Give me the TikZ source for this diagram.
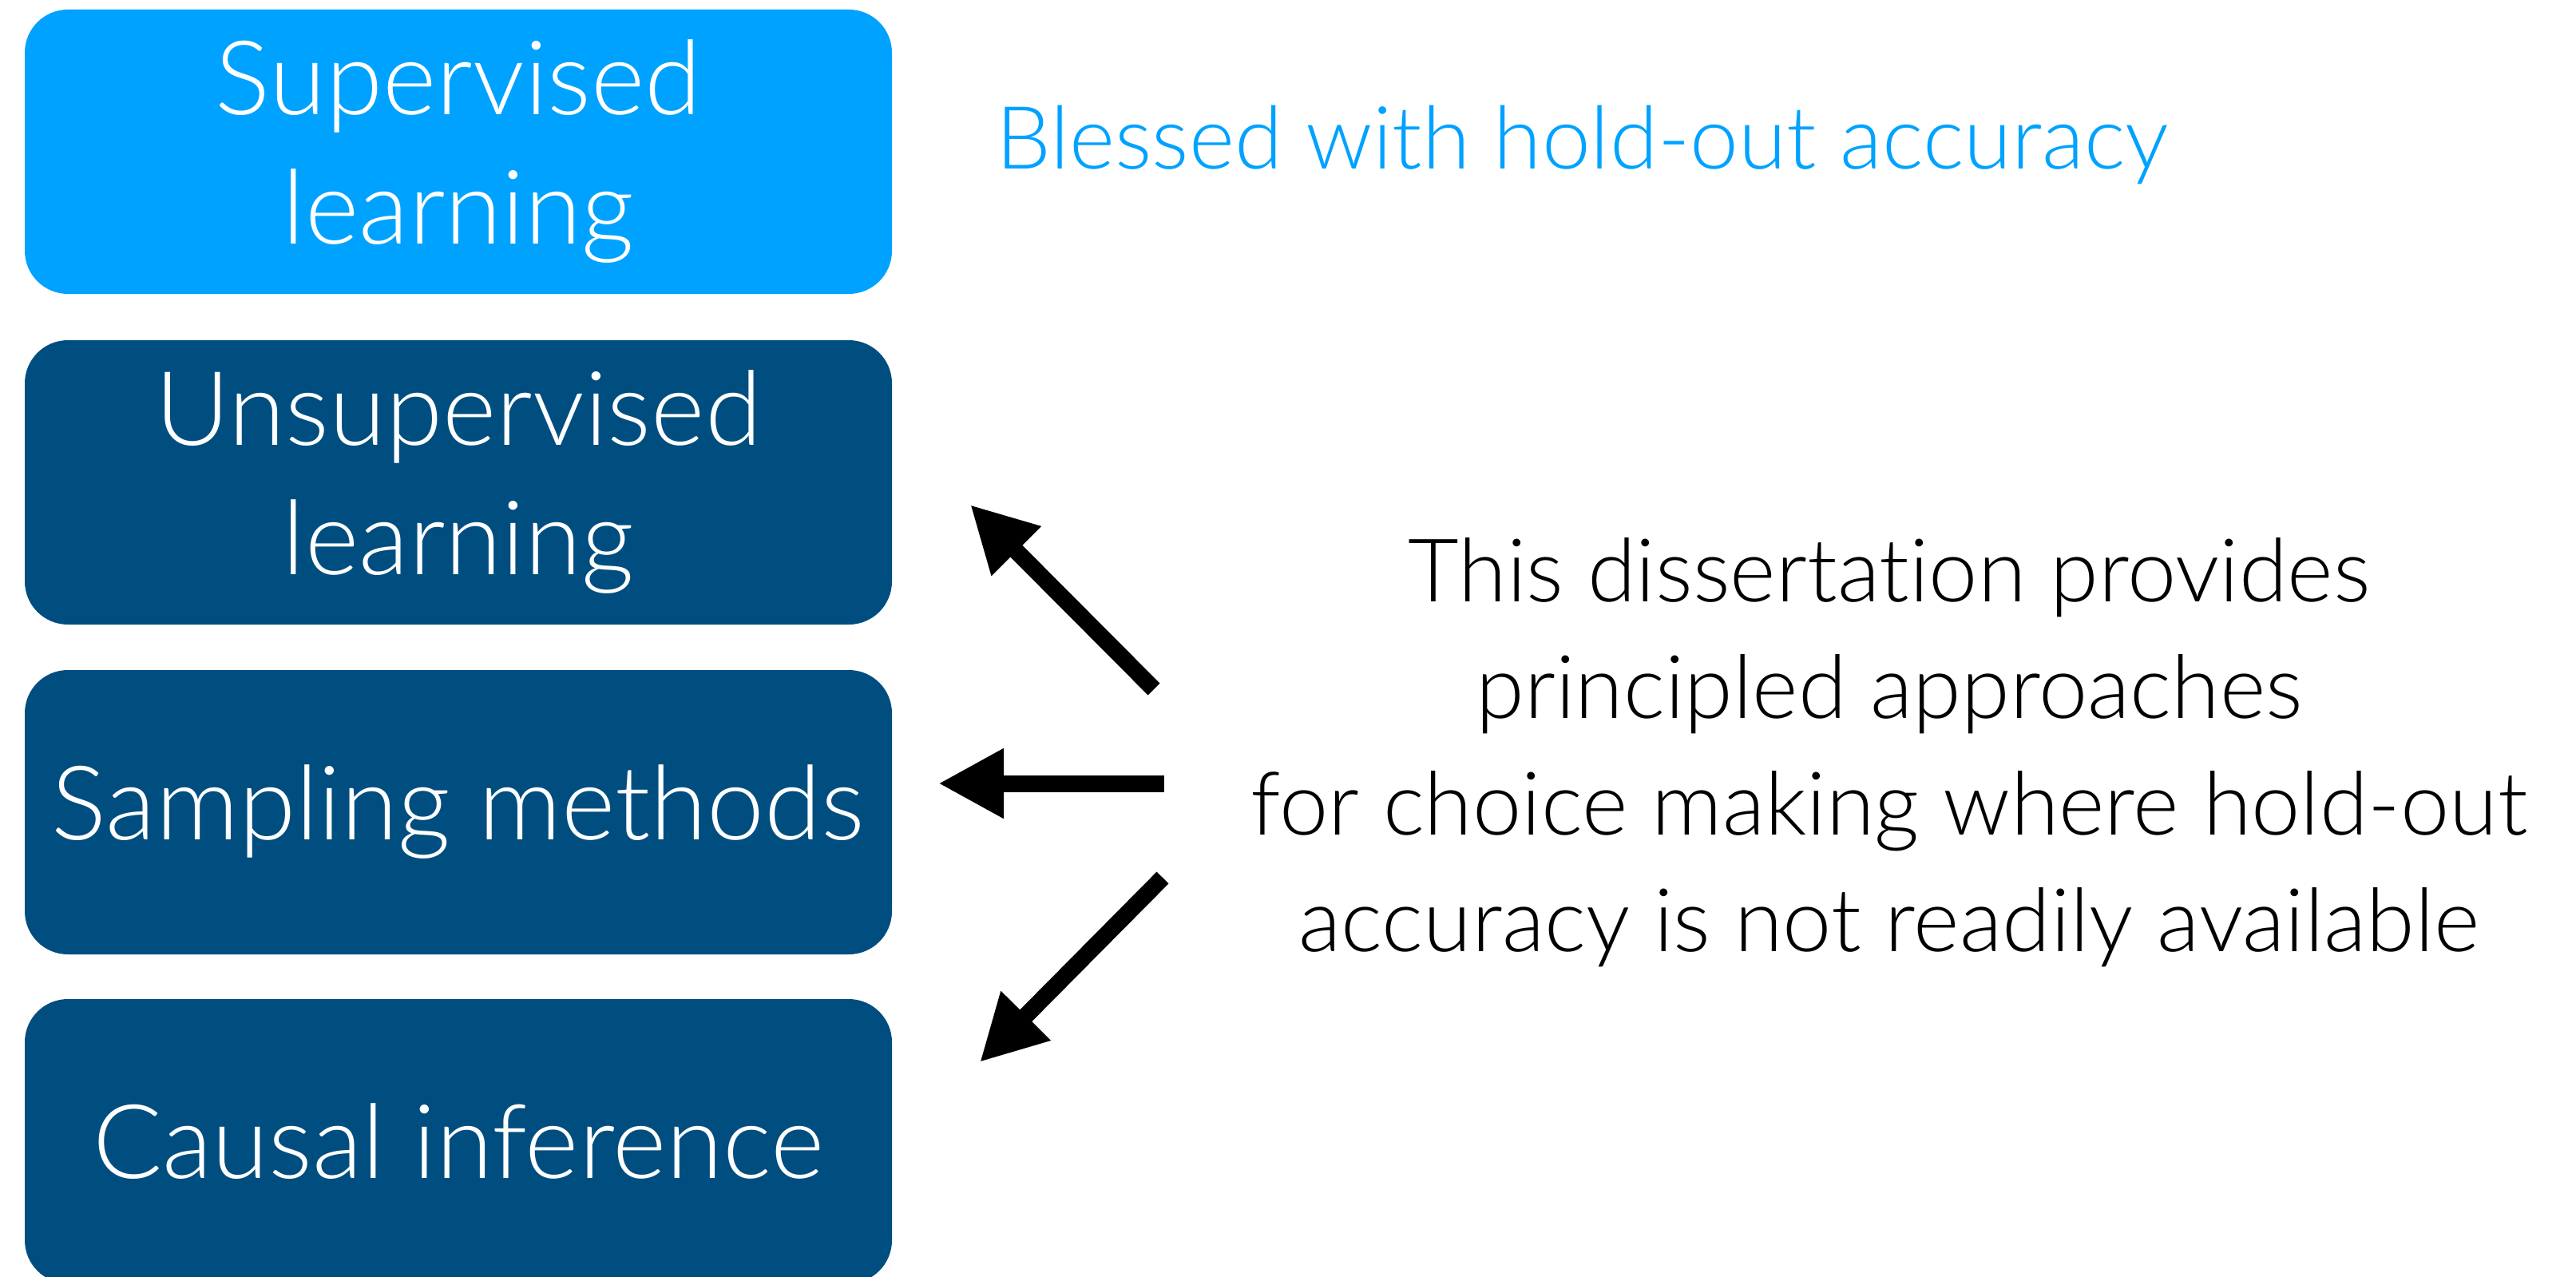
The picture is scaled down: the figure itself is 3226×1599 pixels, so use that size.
\documentclass[tikz,border=0pt]{standalone}
\usepackage{fontspec}
\setmainfont{Lato Light}[Ligatures={NoCommon}]
\usetikzlibrary{arrows.meta}
\definecolor{skyblue}{RGB}{0,162,255}
\definecolor{navy}{RGB}{0,78,128}
\begin{document}
\begin{tikzpicture}[x=0.5pt,y=-0.5pt,
  box/.style={rounded corners=27pt, minimum width=543pt, minimum height=178pt,
    inner sep=0pt, text=white, align=center, font=\fontsize{64.5}{81}\selectfont},
  topbox/.style={box, fill=skyblue},
  lowbox/.style={box, fill=navy},
  pointer/.style={line width=10.5pt, -{Triangle[length=41pt,width=41pt]}}
]
\useasboundingbox (0,0) rectangle (3226,1599);
\fill[white] (0,0) rectangle (3226,1599);

\node[topbox] (sup) at (574,190) {Supervised\\learning};
\node[lowbox] (unsup) at (574,604) {Unsupervised\\learning};
\node[lowbox] (samp) at (574,1017) {Sampling methods};
\node[lowbox] (causal) at (574,1429) {Causal inference};

\node[anchor=west, text=skyblue, font=\fontsize{54.6}{64}\selectfont, inner sep=0pt]
  (bless) at (1247,181) {Blessed with hold-out accuracy};

\node[align=center, font=\fontsize{55}{73}\selectfont, inner sep=0pt]
  (diss) at (2366,942) {This dissertation provides\\principled approaches\\for choice making where hold-out\\accuracy is not readily available};

\coordinate (a1) at (1445,863);
\coordinate (b1) at (1215,632);
\coordinate (a2) at (1458,981);
\coordinate (b2) at (1175,981);
\coordinate (a3) at (1456,1099);
\coordinate (b3) at (1227,1330);

\draw[pointer] (a1) -- (b1);
\draw[pointer] (a2) -- (b2);
\draw[pointer] (a3) -- (b3);
\end{tikzpicture}
\end{document}
